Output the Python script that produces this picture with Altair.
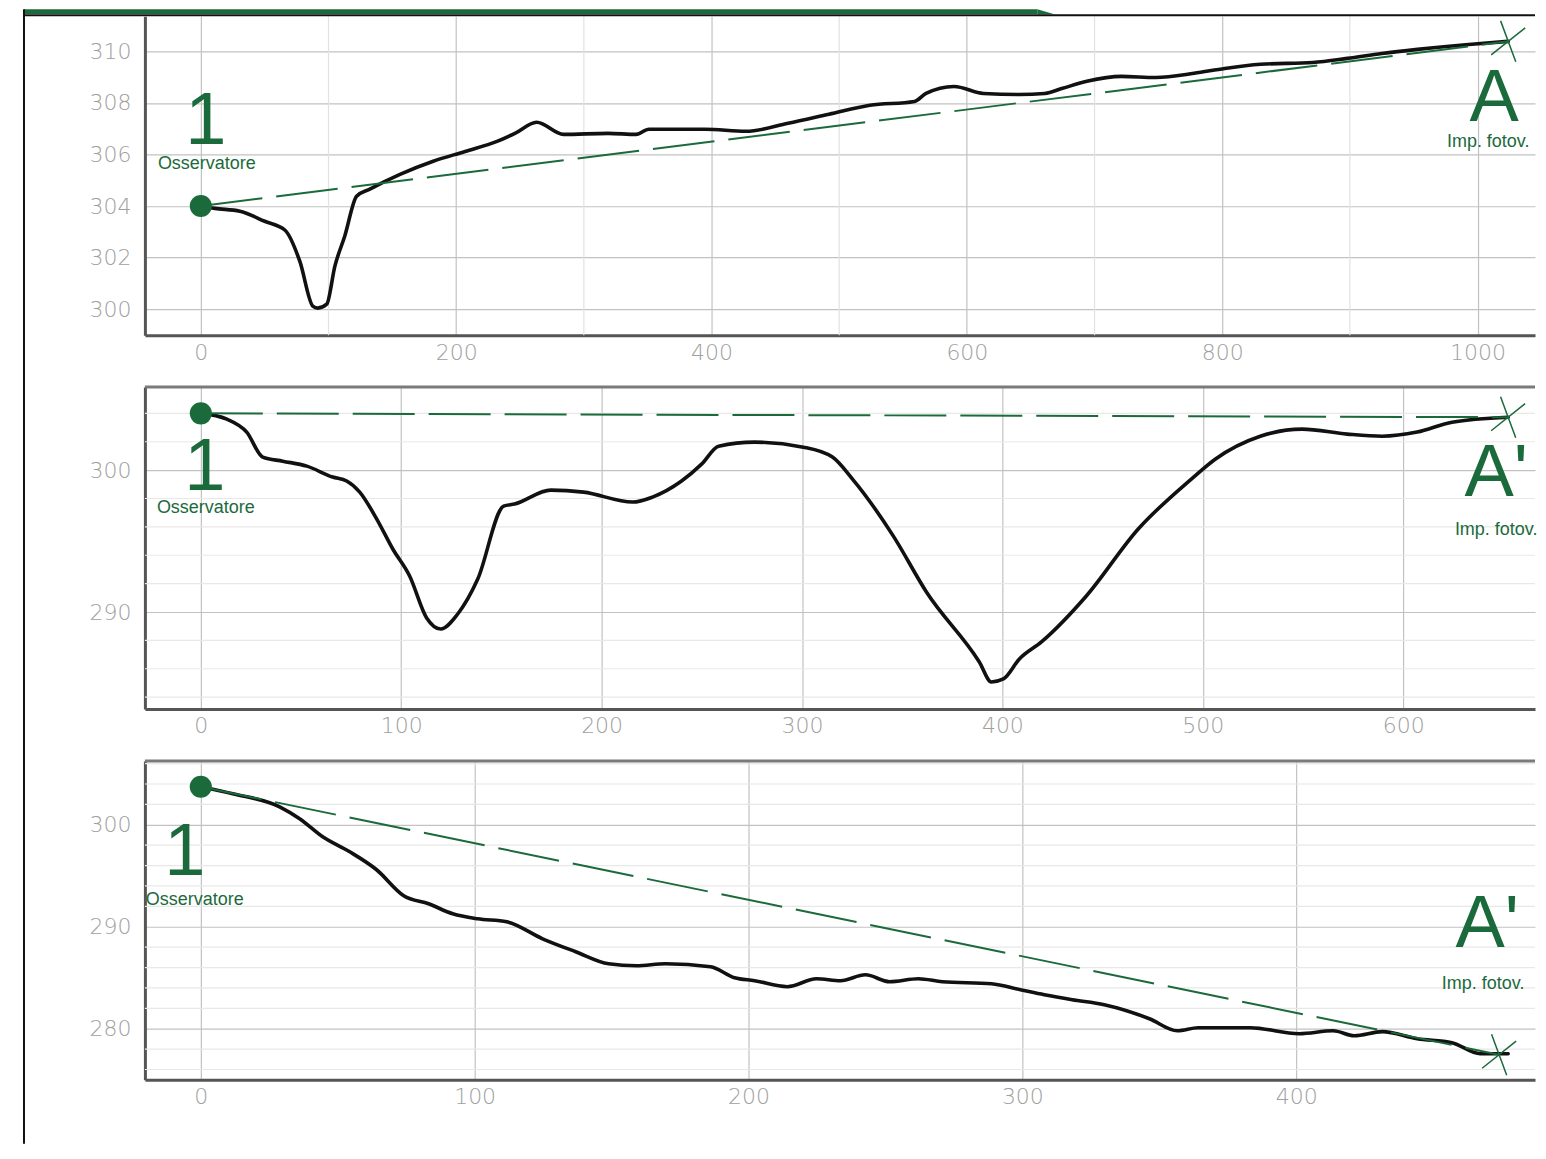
import altair as alt
import pandas as pd

GREEN = "#1b6a3b"
LABEL_GRAY = "#a0a0a0"

# ---------------- data (distance m, elevation m) ----------------
p1_dist = [0, 11, 30.5, 50, 66, 77.5, 87.7, 91.6, 98.6, 105, 112.7, 122, 132, 156, 182, 207, 232, 246, 263, 284,
           319, 341, 351, 395, 427, 460, 492, 524, 559, 568, 590, 613, 641, 661, 675, 694, 721, 748, 778, 802,
           830, 871, 898, 925, 953, 993, 1024]
p1_elev = [304.0, 303.91, 303.80, 303.41, 303.06, 301.86, 300.12, 300.04, 300.19, 301.67, 302.83, 304.38, 304.65,
           305.23, 305.74, 306.12, 306.51, 306.82, 307.25, 306.78, 306.82, 306.78, 306.98, 306.98, 306.90, 307.21,
           307.56, 307.91, 308.06, 308.37, 308.64, 308.37, 308.33, 308.37, 308.57, 308.84, 309.03, 308.99, 309.15,
           309.34, 309.50, 309.57, 309.73, 309.92, 310.08, 310.27, 310.39]
p1_obs = (0, 304.0)
p1_tgt = (1024, 310.39)

p2_dist = [0, 13, 22.9, 30.9, 40.9, 52.9, 65.8, 72.8, 79.3, 87.8, 95.8, 104.2, 112.7, 119.7, 128.2, 138.2, 151.1,
           156.6, 174.6, 191, 215.5, 225.4, 239.9, 249.9, 258.4, 276.3, 300.7, 315.2, 325.2, 345.6, 362.1, 388.5,
           394.5, 400.5, 408.5, 419.5, 441.9, 467.8, 494.3, 506.2, 528.7, 549.6, 572.1, 589.5, 607, 624.4, 652.4]
p2_elev = [304.0, 303.59, 302.68, 300.92, 300.63, 300.28, 299.51, 299.23, 298.45, 296.55, 294.44, 292.54, 289.58,
           288.80, 289.86, 292.32, 297.46, 297.61, 298.59, 298.45, 297.75, 298.10, 299.23, 300.42, 301.69, 301.97,
           301.62, 300.92, 299.37, 295.35, 291.41, 286.48, 285.07, 285.28, 286.69, 287.89, 291.13, 295.85, 299.37,
           300.77, 302.39, 302.89, 302.54, 302.39, 302.68, 303.38, 303.73]
p2_obs = (0, 304.0)
p2_tgt = (652.4, 303.73)

p3_dist = [0, 11.7, 28.8, 36.1, 44.5, 54.4, 64.2, 74.1, 83.2, 92, 101.1, 111.7, 124.8, 136.9, 148.9, 159.1, 169.7,
           186.1, 194.9, 202.2, 214.2, 224.8, 233.6, 242.7, 251.5, 262, 270.8, 288.7, 299.3, 308, 318.2, 329.9,
           346.4, 356.6, 364.2, 383.2, 401.1, 413.5, 421.2, 431.4, 444.2, 456.9, 467.2, 477.4]
p3_elev = [303.73, 303.04, 301.76, 300.59, 298.82, 297.35, 295.59, 293.04, 292.25, 291.27, 290.78, 290.49, 288.82,
           287.55, 286.37, 286.18, 286.37, 286.08, 285.00, 284.71, 284.12, 284.90, 284.71, 285.29, 284.61, 284.90,
           284.61, 284.41, 283.82, 283.33, 282.84, 282.35, 280.98, 279.80, 280.10, 280.10, 279.51, 279.80, 279.31,
           279.71, 279.02, 278.63, 277.55, 277.55]
p3_obs = (0, 303.73)
p3_tgt = (474.1, 277.45)

obs_label = ["1", "Osservatore"]
tgt_labels = [["A", "Imp. fotov."], ["A'", "Imp. fotov."], ["A'", "Imp. fotov."]]

p1_xticks = [0, 200, 400, 600, 800, 1000]
p1_xminor = [100, 300, 500, 700, 900]
p1_yticks = [300, 302, 304, 306, 308, 310]
p1_yminor = []

p2_xticks = [0, 100, 200, 300, 400, 500, 600]
p2_xminor = []
p2_yticks = [290, 300]
p2_yminor = [284, 286, 288, 292, 294, 296, 298, 302, 304]

p3_xticks = [0, 100, 200, 300, 400]
p3_xminor = []
p3_yticks = [280, 290, 300]
p3_yminor = [276, 278, 282, 284, 286, 288, 292, 294, 296, 298, 302, 304, 306]

# ---------------- layout ----------------
PLOT_W = 1391
CROSS = "M-0.37,-1L0.37,1M-0.83,0.66L0.83,-0.66"
ONE = pd.DataFrame({"k": [0]})


def panel(dist, elev, obs, tgt, labels, x_dom, y_dom, xticks, yticks, xminor, yminor, height, offs, top_border):
    prof = pd.DataFrame({"d": dist, "h": elev})
    sight = pd.DataFrame({"d": [obs[0], tgt[0]], "h": [obs[1], tgt[1]]})
    o_df = pd.DataFrame({"d": [obs[0]], "h": [obs[1]]})
    t_df = pd.DataFrame({"d": [tgt[0]], "h": [tgt[1]]})

    xs = alt.Scale(domain=x_dom, nice=False, zero=False)
    ys = alt.Scale(domain=y_dom, nice=False, zero=False)
    xax = alt.Axis(values=xticks, format="d", grid=True, gridColor="#c2c2c2", gridWidth=1.2,
                   ticks=False, domain=True, domainColor="#555555", domainWidth=3,
                   labelFont="DejaVu Sans", labelFontSize=22, labelFontWeight=200, labelColor=LABEL_GRAY,
                   labelPadding=7, labelFlush=False)
    yax = alt.Axis(values=yticks, format="d", grid=True, gridColor="#c2c2c2", gridWidth=1.2,
                   ticks=False, domain=True, domainColor="#555555", domainWidth=3,
                   labelFont="DejaVu Sans", labelFontSize=22, labelFontWeight=200, labelColor=LABEL_GRAY,
                   labelPadding=14, labelFlush=False)
    X = alt.X("d:Q", scale=xs, axis=xax, title=None)
    Y = alt.Y("h:Q", scale=ys, axis=yax, title=None)

    layers = []
    if xminor:
        layers.append(alt.Chart(pd.DataFrame({"d": xminor})).mark_rule(color="#e2e2e2", strokeWidth=1.2)
                      .encode(x=X))
    if yminor:
        layers.append(alt.Chart(pd.DataFrame({"h": yminor})).mark_rule(color="#e8e8e8", strokeWidth=1.2)
                      .encode(y=Y))
    layers.append(alt.Chart(prof).mark_line(color="#111111", strokeWidth=3.6, interpolate="monotone",
                                            strokeJoin="round", strokeCap="round").encode(x=X, y=Y))
    layers.append(alt.Chart(sight).mark_line(color=GREEN, strokeWidth=2, strokeDash=[62, 14]).encode(x=X, y=Y))
    layers.append(alt.Chart(o_df).mark_circle(color=GREEN, size=490, opacity=1).encode(x=X, y=Y))
    layers.append(alt.Chart(t_df).mark_point(shape=CROSS, size=1681, filled=False, stroke=GREEN,
                                             strokeWidth=1.5, opacity=1).encode(x=X, y=Y))
    # labels
    (n_dx, n_dy), (s_dx, s_dy), (a_dx, a_dy), (i_dx, i_dy) = offs
    layers.append(alt.Chart(o_df).mark_text(text=obs_label[0], font="Liberation Sans", fontSize=74,
                                            color=GREEN, align="center", baseline="alphabetic",
                                            dx=n_dx, dy=n_dy).encode(x=X, y=Y))
    layers.append(alt.Chart(o_df).mark_text(text=obs_label[1], font="Liberation Sans", fontSize=18,
                                            color=GREEN, align="center", baseline="middle",
                                            dx=s_dx, dy=s_dy).encode(x=X, y=Y))
    layers.append(alt.Chart(t_df).mark_text(text=labels[0], font="Liberation Sans", fontSize=74,
                                            color=GREEN, align="center", baseline="alphabetic",
                                            dx=a_dx, dy=a_dy).encode(x=X, y=Y))
    layers.append(alt.Chart(t_df).mark_text(text=labels[1], font="Liberation Sans", fontSize=18,
                                            color=GREEN, align="center", baseline="middle",
                                            dx=i_dx, dy=i_dy).encode(x=X, y=Y))
    if top_border:
        layers.append(alt.Chart(ONE).mark_rule(color="#7a7a7a", strokeWidth=3)
                      .encode(x=alt.value(0), x2=alt.value(PLOT_W), y=alt.value(0)))
    return layers


l1 = panel(p1_dist, p1_elev, p1_obs, p1_tgt, tgt_labels[0], [-43.8, 1045.0], [298.99, 311.36],
           p1_xticks, p1_yticks, p1_xminor, p1_yminor, 319,
           [(5, -62), (6, -42), (-14, 80), (-20, 101)], False)
# page frame decorations (header band, top rule, left border line)
l1.append(alt.Chart(ONE).mark_rect(color=GREEN).encode(
    x=alt.value(-121), x2=alt.value(893), y=alt.value(-7), y2=alt.value(-2.3)))
l1.append(alt.Chart(ONE).mark_point(shape="M0,0L2,0.588L0,0.588Z", size=289, filled=True, color=GREEN,
                                    opacity=1, strokeWidth=0).encode(x=alt.value(893), y=alt.value(-7)))
l1.append(alt.Chart(ONE).mark_rule(color="#111111", strokeWidth=2).encode(
    x=alt.value(-121), x2=alt.value(PLOT_W), y=alt.value(-1)))
l1.append(alt.Chart(ONE).mark_rule(color="#111111", strokeWidth=2).encode(
    x=alt.value(-121), y=alt.value(-7), y2=alt.value(1128)))

l2 = panel(p2_dist, p2_elev, p2_obs, p2_tgt, tgt_labels[1], [-27.9, 665.8], [283.17, 305.85],
           p2_xticks, p2_yticks, p2_xminor, p2_yminor, 322,
           [(4, 77), (5, 95), (-12, 79), (-12, 113)], True)
l3 = panel(p3_dist, p3_elev, p3_obs, p3_tgt, tgt_labels[2], [-20.4, 487.2], [275.0, 306.27],
           p3_xticks, p3_yticks, p3_xminor, p3_yminor, 319,
           [(-16, 88), (-6, 113), (-12, -108), (-16, -71)], True)

c1 = alt.layer(*l1).properties(width=PLOT_W, height=319)
c2 = alt.layer(*l2).properties(width=PLOT_W, height=322)
c3 = alt.layer(*l3).properties(width=PLOT_W, height=319)

chart = alt.vconcat(c1, c2, c3, spacing=52, bounds="flush").properties(
    padding={"left": 15, "top": 0, "right": 0, "bottom": 0},
    background="white",
).configure_view(strokeWidth=0)

chart.save("out.html", embed_options={"renderer": "svg", "actions": False})
